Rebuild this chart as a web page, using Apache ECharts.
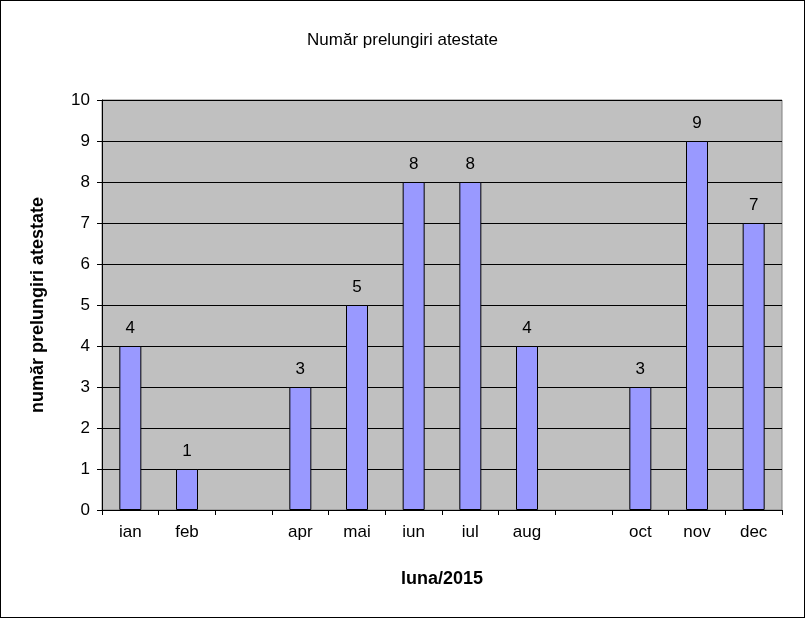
<!DOCTYPE html>
<html><head><meta charset="utf-8">
<script src="https://cdn.jsdelivr.net/npm/echarts@6/dist/echarts.min.js"></script>
<style>html,body{margin:0;padding:0;background:#fff}#c{width:803px;height:616px;border:1px solid #000}</style>
</head><body><div id="c"></div>
<script>
const categories = ['ian','feb','','apr','mai','iun','iul','aug','','oct','nov','dec'];
const values = [4,1,null,3,5,8,8,4,null,3,9,7];
const yTicks = [0,10,1];
const chart = echarts.init(document.getElementById('c'));
const font = 'Arial, "Liberation Sans", sans-serif';
chart.setOption({
  animation:false,
  title:{text:'Număr prelungiri atestate',left:'center',top:26,textStyle:{fontFamily:font,fontSize:17,fontWeight:'normal',color:'#000'}},
  grid:{left:101,right:22,top:99,bottom:107,backgroundColor:'#C0C0C0',show:true,borderColor:'#808080',borderWidth:1},
  xAxis:{type:'category',data:categories,axisTick:{show:true,alignWithLabel:false,lineStyle:{color:'#000'}},
    axisLine:{lineStyle:{color:'#000'}},axisLabel:{color:'#000',fontFamily:font,fontSize:17,margin:14},
    name:'luna/2015',nameLocation:'middle',nameGap:60,nameTextStyle:{fontFamily:font,fontSize:18,fontWeight:'bold',color:'#000'}},
  yAxis:{type:'value',min:yTicks[0],max:yTicks[1],interval:yTicks[2],
    axisLine:{show:true,lineStyle:{color:'#000'}},axisTick:{show:true,lineStyle:{color:'#000'}},
    splitLine:{lineStyle:{color:'#000'}},axisLabel:{color:'#000',fontFamily:font,fontSize:17,margin:12},
    name:'număr prelungiri atestate',nameLocation:'middle',nameGap:55,nameTextStyle:{fontFamily:font,fontSize:18,fontWeight:'bold',color:'#000'}},
  series:[{type:'bar',data:values,barWidth:22,
    itemStyle:{color:'#9999FF',borderColor:'#000',borderWidth:1},
    label:{show:true,position:'top',distance:9,color:'#000',fontFamily:font,fontSize:17}}]
});
</script></body></html>
